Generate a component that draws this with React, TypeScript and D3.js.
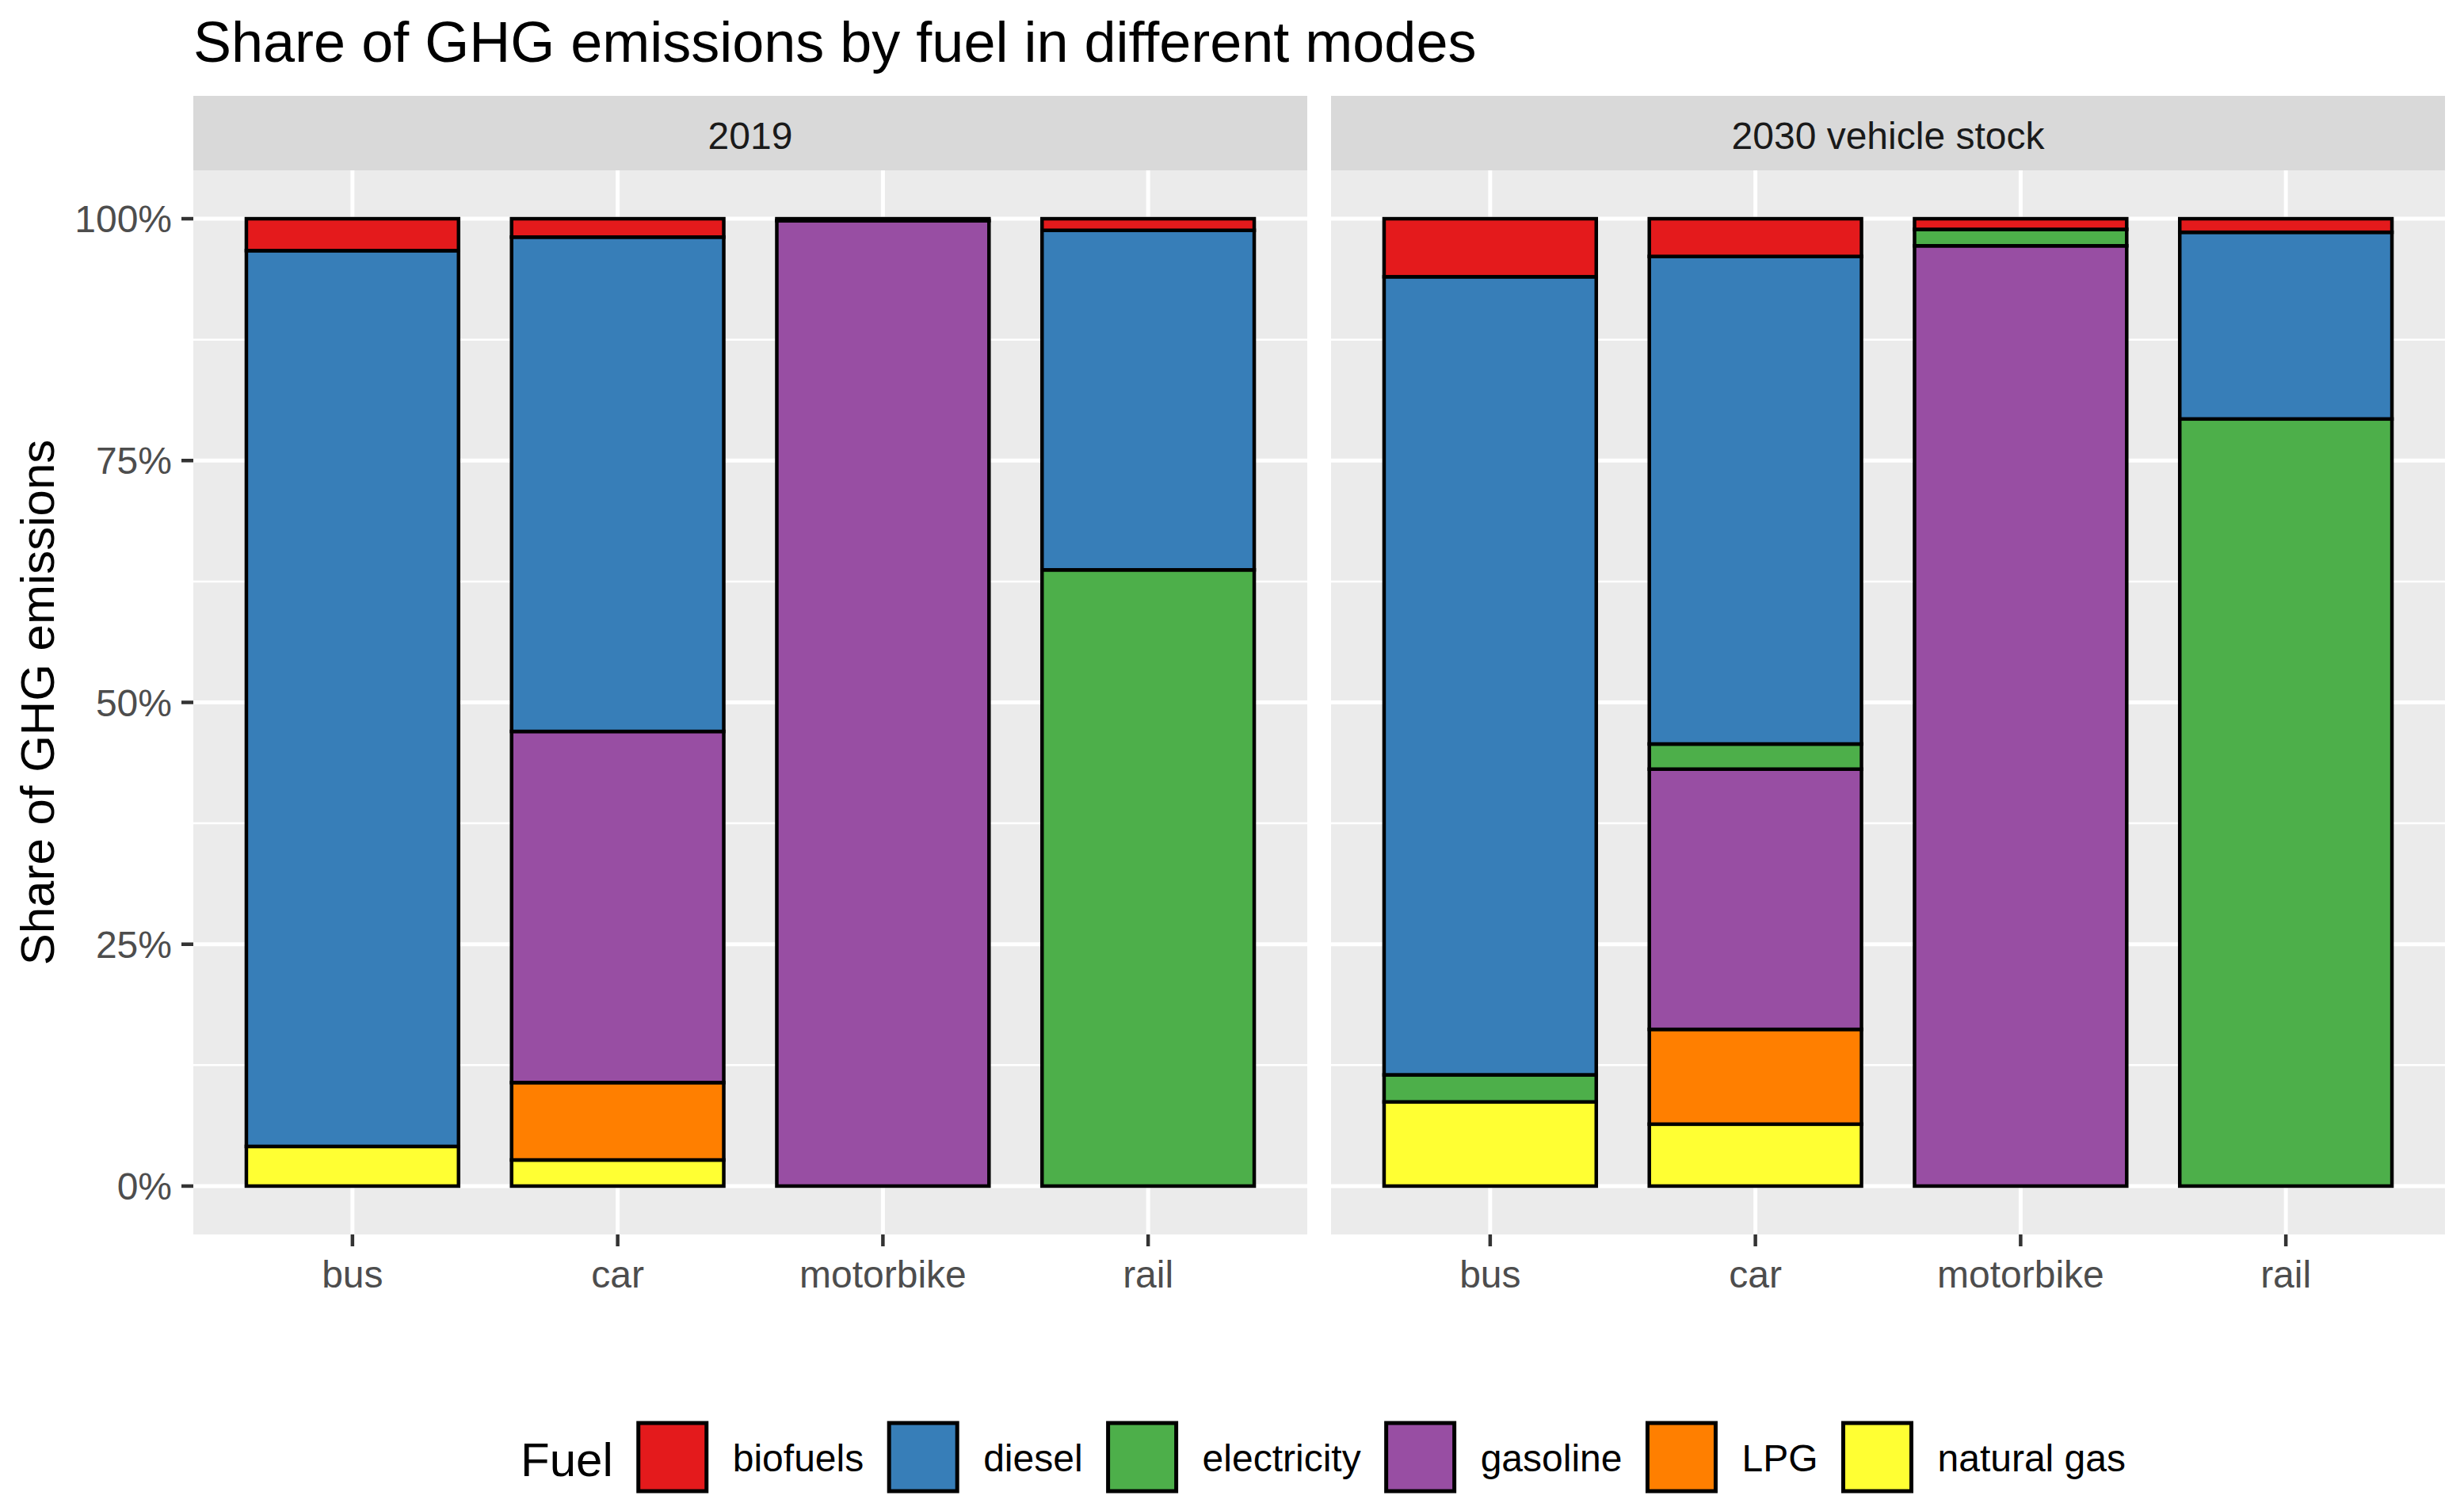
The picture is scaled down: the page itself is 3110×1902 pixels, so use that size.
import React from "react";
import * as d3 from "d3";

const modes = ["bus", "car", "motorbike", "rail"];
const fuels = ["biofuels", "diesel", "electricity", "gasoline", "LPG", "natural gas"];
const fuelColors = ["#E41A1C", "#377EB8", "#4DAF4A", "#984EA3", "#FF7F00", "#FFFF33"];
const panels = ["2019", "2030 vehicle stock"];

// shares (%) per mode: bus, car, motorbike, rail
const biofuels2019 = [3.3, 1.9, 0.2, 1.2];
const diesel2019 = [92.6, 51.1, 0, 35.1];
const electricity2019 = [0, 0, 0, 63.7];
const gasoline2019 = [0, 36.3, 99.8, 0];
const lpg2019 = [0, 8.0, 0, 0];
const naturalGas2019 = [4.1, 2.7, 0, 0];

const biofuels2030 = [6.0, 3.9, 1.1, 1.4];
const diesel2030 = [82.5, 50.4, 0, 19.3];
const electricity2030 = [2.8, 2.6, 1.7, 79.3];
const gasoline2030 = [0, 26.9, 97.2, 0];
const lpg2030 = [0, 9.8, 0, 0];
const naturalGas2030 = [8.7, 6.4, 0, 0];

const yTicks = [0, 0.25, 0.5, 0.75, 1];
const yMinor = [0.125, 0.375, 0.625, 0.875];

const panelData = [
  [biofuels2019, diesel2019, electricity2019, gasoline2019, lpg2019, naturalGas2019],
  [biofuels2030, diesel2030, electricity2030, gasoline2030, lpg2030, naturalGas2030],
];

const W = 3110;
const H = 1902;
const panelTop = 215;
const panelBottom = 1558;
const stripTop = 121;
const panelX = [
  [244, 1650],
  [1680, 3086],
];
const FONT = "'Liberation Sans', Arial, Helvetica, sans-serif";

function measure(text: string, size: number) {
  const c = document.createElement("canvas").getContext("2d");
  if (!c) return text.length * size * 0.5;
  c.font = `${size}px 'Liberation Sans', Arial, sans-serif`;
  return c.measureText(text).width;
}

export default function App() {
  const y = d3.scaleLinear().domain([-0.05, 1.05]).range([panelBottom, panelTop]);
  const pct = d3.format(".0%");
  // stacking order bottom -> top: natural gas, LPG, gasoline, electricity, diesel, biofuels
  const stackKeys = [...fuels].reverse();

  const legendTitle = "Fuel";
  const keySize = 86;
  const titleW = measure(legendTitle, 60);
  const labelWs = fuels.map((f) => measure(f, 48));
  const total =
    titleW + 32 + fuels.length * (keySize + 33) + d3.sum(labelWs) + (fuels.length - 1) * 32;
  const legendStart = (panelX[0][0] + panelX[1][1]) / 2 - total / 2 + 5;
  const legendItems: { x: number; lx: number; i: number }[] = [];
  let cur = legendStart + titleW + 32;
  fuels.forEach((f, i) => {
    legendItems.push({ x: cur, lx: cur + keySize + 33, i });
    cur += keySize + 33 + labelWs[i] + 32;
  });
  const keyY = 1796;

  return (
    <svg
      width={W}
      height={H}
      style={{ position: "absolute", left: 0, top: 0, background: "#fff" }}
      fontFamily={FONT}
    >
      <rect x={0} y={0} width={W} height={H} fill="#fff" />
      <text x={244} y={78} fontSize={72} fill="#000">
        Share of GHG emissions by fuel in different modes
      </text>
      <text
        transform={`translate(68, ${(panelTop + panelBottom) / 2}) rotate(-90)`}
        textAnchor="middle"
        fontSize={60}
        fill="#000"
      >
        Share of GHG emissions
      </text>
      {yTicks.map((t) => (
        <g key={"yt" + t}>
          <text x={217} y={y(t) + 17} textAnchor="end" fontSize={48} fill="#4D4D4D">
            {pct(t)}
          </text>
          <line x1={229} x2={244} y1={y(t)} y2={y(t)} stroke="#333333" strokeWidth={4.5} />
        </g>
      ))}
      {panels.map((p, pi) => {
        const [x0, x1] = panelX[pi];
        const x = d3.scaleBand().domain(modes).range([x0, x1]).paddingInner(0.2).paddingOuter(0.2);
        const rows = modes.map((m, mi) => {
          const r: any = { mode: m };
          fuels.forEach((f, fi) => (r[f] = panelData[pi][fi][mi] / 100));
          return r;
        });
        const series = d3.stack().keys(stackKeys)(rows);
        return (
          <g key={p}>
            <rect x={x0} y={stripTop} width={x1 - x0} height={panelTop - stripTop} fill="#D9D9D9" />
            <text x={(x0 + x1) / 2} y={188} textAnchor="middle" fontSize={48} fill="#1A1A1A">
              {p}
            </text>
            <rect x={x0} y={panelTop} width={x1 - x0} height={panelBottom - panelTop} fill="#EBEBEB" />
            {yMinor.map((t) => (
              <line key={"mn" + t} x1={x0} x2={x1} y1={y(t)} y2={y(t)} stroke="#fff" strokeWidth={2.5} />
            ))}
            {yTicks.map((t) => (
              <line key={"mj" + t} x1={x0} x2={x1} y1={y(t)} y2={y(t)} stroke="#fff" strokeWidth={5} />
            ))}
            {modes.map((m) => {
              const cx = (x(m) as number) + x.bandwidth() / 2;
              return (
                <g key={"xg" + m}>
                  <line x1={cx} x2={cx} y1={panelTop} y2={panelBottom} stroke="#fff" strokeWidth={5} />
                  <line x1={cx} x2={cx} y1={panelBottom} y2={panelBottom + 15} stroke="#333333" strokeWidth={4.5} />
                  <text x={cx} y={1625} textAnchor="middle" fontSize={48} fill="#4D4D4D">
                    {m}
                  </text>
                </g>
              );
            })}
            {series.map((s) => {
              const fi = fuels.indexOf(s.key);
              return s.map((d, mi) => {
                if (d[1] - d[0] <= 0) return null;
                const m = modes[mi];
                return (
                  <rect
                    key={s.key + m}
                    x={x(m)}
                    width={x.bandwidth()}
                    y={y(d[1])}
                    height={y(d[0]) - y(d[1])}
                    fill={fuelColors[fi]}
                    stroke="#000"
                    strokeWidth={4.5}
                  />
                );
              });
            })}
          </g>
        );
      })}
      <text x={legendStart} y={1863} fontSize={60} fill="#000">
        {legendTitle}
      </text>
      {legendItems.map(({ x, lx: tx, i }) => (
        <g key={"lg" + i}>
          <rect
            x={x}
            y={keyY}
            width={keySize}
            height={keySize}
            fill={fuelColors[i]}
            stroke="#000"
            strokeWidth={5}
          />
          <text x={tx} y={1857} fontSize={48} fill="#000">
            {fuels[i]}
          </text>
        </g>
      ))}
    </svg>
  );
}
